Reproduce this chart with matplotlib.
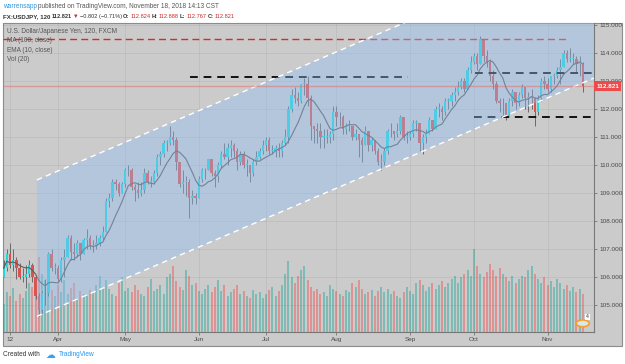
"""
USD/JPY 120-minute chart with rising channel, recreated as daily bars.
Writes out.png (625x364).
"""

import matplotlib
matplotlib.use("Agg")

import matplotlib.pyplot as plt
import numpy as np
import pandas as pd
from matplotlib.patches import Circle, Polygon, Rectangle

W, H = 625, 364

# ---- data (weekdays 2018-03-08 .. 2018-11-16) ----
dates = pd.bdate_range("2018-03-08", "2018-11-16")

close = [
    106.3, 106.8, 106.4, 106.6, 106.3, 106.0, 106.0, 106.1, 106.4, 106.0,
    105.3, 104.8, 105.4, 105.4, 106.8, 106.3, 106.3, 105.9, 106.6, 106.7,
    107.4, 106.9, 106.8, 107.2, 106.8, 107.3, 107.4, 107.1, 107.1, 107.2,
    107.4, 107.6, 108.7, 108.8, 109.4, 109.3, 109.0, 109.3, 109.8, 109.8,
    109.2, 109.1, 109.0, 109.1, 109.7, 109.4, 109.4, 109.7, 110.3, 110.4,
    110.8, 110.8, 111.0, 110.9, 110.1, 109.3, 109.4, 109.4, 108.8, 108.9,
    108.8, 109.5, 109.8, 109.8, 110.2, 109.7, 109.6, 110.0, 110.4, 110.3,
    110.6, 110.7, 110.5, 110.1, 110.4, 110.0, 110.0, 109.7, 110.1, 110.3,
    110.5, 110.7, 110.9, 110.5, 110.5, 110.6, 110.5, 110.8, 111.0, 112.0,
    112.5, 112.4, 112.3, 112.9, 112.9, 112.4, 111.4, 111.3, 111.2, 111.0,
    111.0, 111.0, 111.1, 111.9, 111.7, 111.7, 111.3, 111.4, 111.4, 111.0,
    111.1, 110.9, 110.7, 111.2, 110.7, 110.9, 110.5, 110.1, 110.1, 110.5,
    111.2, 111.2, 111.1, 111.2, 111.7, 111.0, 111.0, 111.1, 111.5, 111.5,
    110.8, 111.0, 111.1, 111.6, 111.3, 112.0, 112.0, 111.9, 112.3, 112.3,
    112.5, 112.6, 112.8, 113.0, 112.7, 113.4, 113.7, 113.9, 113.6, 114.5,
    113.9, 113.7, 113.2, 112.9, 112.3, 112.2, 112.2, 111.7, 112.3, 112.6,
    112.2, 112.5, 112.8, 112.4, 112.4, 112.4, 111.9, 112.4, 113.0, 112.9,
    112.7, 113.2, 113.2, 113.4, 113.5, 114.0, 113.8, 113.8, 113.8, 113.6,
    113.6, 112.821,
]
high = [
    106.6, 107.0, 107.2, 107.0, 106.7, 106.5, 106.3, 106.4, 106.6, 106.5,
    106.0, 105.4, 105.5, 105.9, 106.9, 107.0, 106.5, 106.4, 106.7, 107.0,
    107.5, 107.5, 107.2, 107.3, 107.2, 107.4, 107.7, 107.5, 107.3, 107.5,
    107.5, 107.8, 108.8, 109.0, 109.5, 109.5, 109.4, 109.4, 109.9, 110.0,
    109.9, 109.3, 109.4, 109.4, 109.9, 109.8, 109.6, 109.8, 110.4, 110.5,
    110.9, 110.9, 111.4, 111.2, 111.0, 110.1, 109.8, 109.6, 109.5, 109.1,
    109.0, 109.6, 109.9, 109.9, 110.2, 110.1, 109.8, 110.1, 110.5, 110.8,
    110.8, 110.9, 110.8, 110.6, 110.5, 110.5, 110.2, 110.0, 110.2, 110.5,
    110.6, 110.9, 111.0, 111.0, 110.7, 110.7, 110.8, 110.9, 111.3, 112.1,
    112.7, 112.8, 112.6, 112.9, 113.1, 113.2, 112.5, 111.4, 111.5, 111.5,
    111.3, 111.3, 111.2, 112.1, 112.1, 111.9, 111.8, 111.5, 111.6, 111.4,
    111.3, 111.1, 111.0, 111.4, 111.2, 111.0, 110.9, 110.6, 110.4, 110.6,
    111.3, 111.5, 111.2, 111.5, 111.8, 111.7, 111.2, 111.2, 111.6, 111.6,
    111.4, 111.1, 111.3, 111.7, 111.6, 112.1, 112.2, 112.1, 112.4, 112.4,
    112.6, 112.8, 113.0, 113.1, 113.1, 113.5, 113.9, 114.0, 114.0, 114.6,
    114.5, 114.1, 113.8, 113.4, 113.0, 112.4, 112.4, 112.1, 112.4, 112.7,
    112.6, 112.6, 112.9, 112.8, 112.6, 112.7, 112.3, 112.5, 113.1, 113.2,
    113.1, 113.2, 113.3, 113.5, 113.8, 114.1, 114.1, 114.2, 114.0, 113.9,
    113.9, 113.7,
]
low = [
    106.0, 106.2, 106.3, 106.2, 105.9, 105.9, 105.8, 105.6, 106.0, 105.8,
    105.2, 104.6, 104.7, 105.0, 105.3, 106.2, 106.1, 105.8, 105.8, 106.0,
    106.7, 106.6, 106.6, 106.7, 106.6, 106.8, 107.0, 107.0, 106.9, 107.0,
    107.1, 107.3, 107.6, 108.5, 108.7, 109.1, 108.9, 109.0, 109.2, 109.6,
    109.1, 108.7, 108.8, 108.9, 109.0, 109.3, 109.2, 109.3, 109.6, 110.0,
    110.3, 110.5, 110.7, 110.7, 109.8, 109.2, 109.0, 108.9, 108.1, 108.6,
    108.6, 108.8, 109.4, 109.5, 109.8, 109.6, 109.2, 109.4, 109.9, 110.2,
    110.0, 110.3, 110.3, 109.8, 110.0, 109.9, 109.6, 109.4, 109.6, 110.0,
    110.2, 110.4, 110.5, 110.4, 110.4, 110.3, 110.3, 110.3, 110.7, 110.8,
    111.9, 112.2, 112.1, 112.2, 112.5, 112.1, 110.9, 110.8, 110.8, 110.6,
    110.6, 110.8, 110.8, 110.9, 111.4, 111.4, 111.1, 111.1, 111.2, 110.9,
    110.9, 110.3, 110.1, 110.7, 110.5, 110.5, 110.4, 110.0, 109.8, 110.0,
    110.4, 111.0, 110.9, 111.0, 111.1, 110.9, 110.8, 110.9, 111.0, 111.2,
    110.5, 110.4, 110.8, 111.1, 111.2, 111.3, 111.7, 111.6, 111.8, 112.0,
    112.1, 112.3, 112.5, 112.7, 112.6, 112.7, 113.3, 113.6, 113.4, 113.6,
    113.7, 113.5, 113.0, 112.7, 112.2, 111.9, 111.8, 111.6, 111.7, 112.1,
    112.0, 112.1, 112.4, 112.0, 111.9, 112.0, 111.4, 111.8, 112.3, 112.7,
    112.6, 112.6, 112.9, 113.1, 112.9, 113.5, 113.7, 113.7, 113.6, 113.3,
    113.2, 112.6,
]
volume = [
    30, 42, 38, 47, 33, 40, 36, 44, 52, 48,
    58, 80, 62, 55, 70, 45, 38, 50, 42, 55,
    40, 47, 52, 36, 44, 40, 38, 45, 42, 50,
    60, 48, 55, 46, 40, 38, 52, 58, 44, 47,
    42, 50, 45, 40, 38, 48, 56, 44, 46, 50,
    40, 58, 62, 70, 54, 48, 45, 66, 60, 50,
    52, 44, 40, 46, 50, 42, 48, 55, 44, 50,
    38, 42, 46, 50, 40, 44, 38, 36, 45, 40,
    42, 36, 40, 45, 48, 38, 44, 50, 62, 75,
    58, 52, 60, 66, 70, 55, 48, 44, 46, 40,
    42, 38, 50, 46, 44, 40, 38, 45, 42, 52,
    48, 55, 46, 40, 42, 45, 38, 44, 48, 42,
    46, 40, 44, 38, 36, 42, 48, 44, 40, 52,
    55, 50, 44, 48, 52, 46, 50, 54, 48, 52,
    56, 60, 52, 58, 62, 66, 60, 88, 70, 62,
    58, 64, 72, 66, 60, 68, 62, 58, 54, 60,
    52, 56, 60, 58, 66, 70, 62, 56, 52, 58,
    50, 54, 48, 56, 52, 46, 50, 44, 48, 42,
    46, 40,
]
first_open = 106.0
last_price = 112.821

# drawings: rising channel (bar index, price) and horizontal levels
channel_x = [10.4, 184.5]
channel_upper = [109.46, 117.99]
channel_lower = [104.58, 113.11]
red_level = (114.51, -0.2, 176.4)
black_levels = [(113.15, 58.3, 126.4), (113.28, 147.3, 184.5), (111.70, 147.0, 184.5)]

# ---- styling ----
BG = "#cbcbcb"
UP = "#22d6dc"
DOWN = "#d9534f"
TEXT = "#4a4a4a"

plt.rcParams["font.family"] = ["Liberation Sans", "DejaVu Sans"]


def fx(x):
    return x / W


def fy(y):
    return 1 - y / H


def place_row(fig, y, pieces, x0, gap=1.5):
    """Write text pieces one after another on a pixel row."""
    renderer = fig.canvas.get_renderer()
    x = x0
    for s, c, fs, weight in pieces:
        t = fig.text(fx(x), fy(y), s, color=c, fontsize=fs, fontweight=weight,
                     va="center")
        x += t.get_window_extent(renderer).width + gap


fig = plt.figure(figsize=(W / 100, H / 100), dpi=100)
fig.patch.set_facecolor("white")
fig.add_artist(Rectangle((fx(3), fy(346)), fx(619), (346 - 22.5) / H,
                         transform=fig.transFigure, facecolor=BG,
                         edgecolor="#8c8c8c", linewidth=0.8, zorder=-1))

ax = fig.add_axes([fx(3), fy(331.7), fx(591), (331.7 - 22.7) / H])
ax_vol = ax.twinx()
ax.set_zorder(ax_vol.get_zorder() + 1)
ax.patch.set_visible(False)
ax_vol.patch.set_visible(False)

idx = np.arange(len(dates))
close = np.array(close)
opens = np.concatenate([[first_open], close[:-1]])
up = close >= opens

# volume
vcol = np.where(up, "#26a69a", "#ef5350")
ax_vol.bar(idx, volume, width=0.65, color=vcol, alpha=0.45, linewidth=0)
ax_vol.set_ylim(0, 330)
ax_vol.set_yticks([])
for s in ax_vol.spines.values():
    s.set_visible(False)

# candles
ax.vlines(idx, low, high, color="#5a5a5a", linewidth=0.6, zorder=2)
body = np.where(np.abs(close - opens) < 0.03, 0.03, close - opens)
ax.bar(idx, body, bottom=opens, width=0.7, color=np.where(up, UP, DOWN),
       linewidth=0, zorder=2.2)

# MA(100) on 2h bars ~ 8 trading days
ma = pd.Series(close).rolling(8, min_periods=1).mean()
ax.plot(idx, ma, color="#5c5c5c", linewidth=0.8, zorder=2.4)

# horizontal levels
lvl, x0, x1 = red_level
ax.plot([x0, x1], [lvl, lvl], color="#e0262b", linewidth=1.0,
        dashes=(5, 3), zorder=2.5)
for lvl, x0, x1 in black_levels:
    ax.plot([x0, x1], [lvl, lvl], color="#111111", linewidth=1.4,
            dashes=(4, 3), zorder=2.5)

# channel fill drawn over the series, borders on top
verts = [(channel_x[0], channel_upper[0]), (channel_x[1], channel_upper[1]),
         (channel_x[1], channel_lower[1]), (channel_x[0], channel_lower[0])]
ax.add_patch(Polygon(verts, closed=True, facecolor=(0.57, 0.75, 0.96, 0.4),
                     edgecolor="none", zorder=3))
ax.plot(channel_x, channel_upper, color="white", linewidth=1.0, dashes=(4, 3), zorder=4)
ax.plot(channel_x, channel_lower, color="white", linewidth=1.0, dashes=(4, 3), zorder=4)

# last price line + label
ax.axhline(last_price, color="#f06060", alpha=0.45, linewidth=1.0, zorder=5)
ax.text(1.004, last_price, f"{last_price:.3f}", transform=ax.get_yaxis_transform(),
        ha="left", va="center", fontsize=4.6, fontweight="bold", color="white",
        clip_on=False, zorder=6,
        bbox=dict(boxstyle="square,pad=0.35", facecolor="#ef4a4a", edgecolor="none"))

# axes
ax.set_xlim(-0.19, 184.5)
ax.set_ylim(104.03, 115.09)
yt = np.arange(105, 116)
ax.set_yticks(yt)
ax.set_yticklabels([f"{v:.3f}" for v in yt])
ax.yaxis.tick_right()

month_pos, month_lab = [], []
for i, d in enumerate(dates):
    if i == 0:
        continue
    if d.month != dates[i - 1].month:
        month_pos.append(i)
        month_lab.append(d.strftime("%b"))
mar12 = list(dates).index(pd.Timestamp("2018-03-12"))
ax.set_xticks([mar12] + month_pos)
ax.set_xticklabels(["12"] + month_lab)
ax.tick_params(axis="both", labelsize=4.6, colors="#777777", labelcolor=TEXT,
               length=2, width=0.6, pad=2)
ax.grid(True, color="black", alpha=0.06, linewidth=0.6)
ax.set_axisbelow(True)
ax.spines["top"].set_visible(False)
ax.spines["left"].set_visible(False)
ax.spines["right"].set_color("#777777")
ax.spines["bottom"].set_color("#777777")
ax.spines["right"].set_linewidth(0.8)
ax.spines["bottom"].set_linewidth(0.8)

# event marker, bottom right
ax.add_patch(Circle((0.981, 0.027), 0.011, transform=ax.transAxes,
                    facecolor="#dfe3f0", edgecolor="#f2a227", linewidth=1.2,
                    zorder=6, clip_on=False))
ax.text(0.989, 0.048, "4", transform=ax.transAxes, fontsize=3.8, color="#333333",
        ha="center", va="center", zorder=7,
        bbox=dict(boxstyle="square,pad=0.15", facecolor="white", edgecolor="none"))

# header text
fs = 4.7
place_row(fig, 7, [("warrensapp", "#2f95dc", fs, "normal"),
                   ("published on TradingView.com, November 18, 2018 14:13 CST",
                    "#555555", fs, "normal")], 3)
vfs = 4.1
place_row(fig, 16.5, [
    ("FX:USDJPY, 120", "#333333", 4.4, "bold"),
    ("112.821", "#333333", vfs, "bold"),
    ("\u25bc", "#c62828", vfs, "normal"),
    ("\u22120.802 (\u22120.71%)", "#333333", vfs, "normal"),
    ("O:", "#333333", vfs, "bold"), ("112.824", "#c62828", vfs, "normal"),
    ("H:", "#333333", vfs, "bold"), ("112.888", "#c62828", vfs, "normal"),
    ("L:", "#333333", vfs, "bold"), ("112.767", "#c62828", vfs, "normal"),
    ("C:", "#333333", vfs, "bold"), ("112.821", "#c62828", vfs, "normal"),
], 3, gap=1.2)

legend_rows = [(31.5, "U.S. Dollar/Japanese Yen, 120, FXCM"), (40.5, "MA (100, close)"),
               (50, "EMA (10, close)"), (59.5, "Vol (20)")]
for y, s in legend_rows:
    fig.text(fx(7), fy(y), s, color="#555555", fontsize=fs, va="center")

# footer
place_row(fig, 354.5, [("Created with", "#333333", fs, "normal")], 3)
fig.text(fx(45), fy(354.5), "\u2601", color="#3aa0f0", fontsize=7, va="center",
         family="DejaVu Sans")
fig.text(fx(59), fy(354.5), "TradingView", color="#2196f3", fontsize=fs, va="center")

fig.savefig("out.png", dpi=100)
